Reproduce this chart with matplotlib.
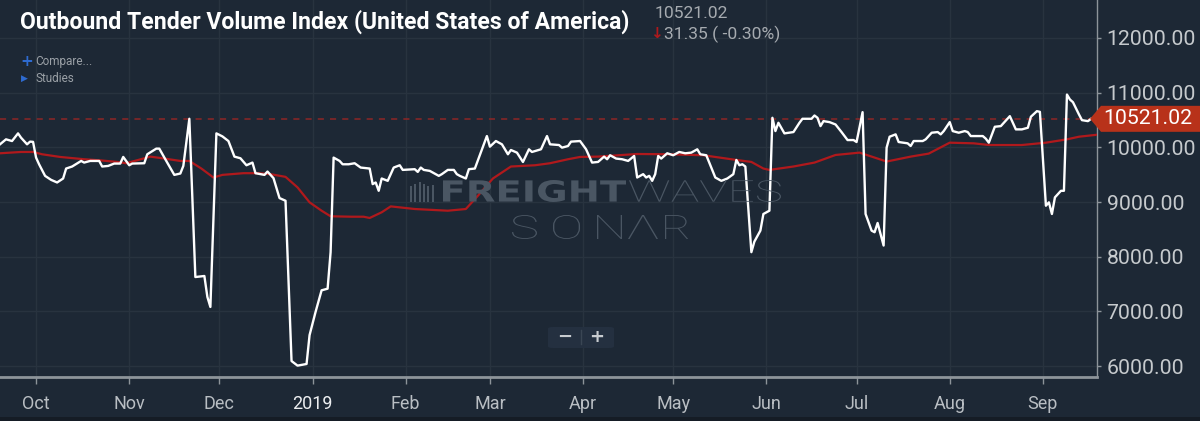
import matplotlib
matplotlib.use("Agg")
import matplotlib.pyplot as plt
import pandas as pd
from matplotlib.patches import PathPatch, Polygon, FancyBboxPatch, Rectangle
from matplotlib.lines import Line2D
from matplotlib.textpath import TextPath
from matplotlib.font_manager import FontProperties
from matplotlib.transforms import Affine2D
from matplotlib.ticker import FuncFormatter

# ---- data --------------------------------------------------------------------
otvi_dates = [
    "2018-09-19", "2018-09-21", "2018-09-23", "2018-09-25", "2018-09-26", "2018-09-28",
    "2018-09-29", "2018-09-30",
    "2018-10-01", "2018-10-02", "2018-10-04", "2018-10-06", "2018-10-08", "2018-10-10",
    "2018-10-11", "2018-10-13", "2018-10-16", "2018-10-17", "2018-10-19", "2018-10-22",
    "2018-10-23", "2018-10-25", "2018-10-27", "2018-10-29", "2018-10-30",
    "2018-11-01", "2018-11-02", "2018-11-06", "2018-11-07", "2018-11-10", "2018-11-11",
    "2018-11-13", "2018-11-16", "2018-11-18", "2018-11-19", "2018-11-21", "2018-11-23",
    "2018-11-26", "2018-11-27", "2018-11-28", "2018-11-30",
    "2018-12-02", "2018-12-04", "2018-12-06", "2018-12-08", "2018-12-10", "2018-12-12",
    "2018-12-13", "2018-12-16", "2018-12-17", "2018-12-19", "2018-12-21", "2018-12-23",
    "2018-12-25", "2018-12-27", "2018-12-30", "2018-12-31",
    "2019-01-02", "2019-01-04", "2019-01-06", "2019-01-07", "2019-01-08", "2019-01-10",
    "2019-01-11", "2019-01-13", "2019-01-15", "2019-01-17", "2019-01-20", "2019-01-21",
    "2019-01-22", "2019-01-23", "2019-01-24", "2019-01-26", "2019-01-28", "2019-01-30",
    "2019-01-31",
    "2019-02-04", "2019-02-05", "2019-02-06", "2019-02-07", "2019-02-09", "2019-02-12",
    "2019-02-13", "2019-02-15", "2019-02-17", "2019-02-18", "2019-02-19", "2019-02-21",
    "2019-02-22", "2019-02-24", "2019-02-28",
    "2019-03-01", "2019-03-03", "2019-03-05", "2019-03-07", "2019-03-08", "2019-03-10",
    "2019-03-12", "2019-03-14", "2019-03-15", "2019-03-18", "2019-03-20", "2019-03-21",
    "2019-03-24", "2019-03-25", "2019-03-27", "2019-03-28", "2019-03-31",
    "2019-04-02", "2019-04-04", "2019-04-06", "2019-04-08", "2019-04-09", "2019-04-10",
    "2019-04-12", "2019-04-14", "2019-04-16", "2019-04-18", "2019-04-19", "2019-04-21",
    "2019-04-22", "2019-04-23", "2019-04-24", "2019-04-25", "2019-04-26", "2019-04-27",
    "2019-04-29",
    "2019-05-01", "2019-05-03", "2019-05-05", "2019-05-07", "2019-05-09", "2019-05-10",
    "2019-05-12", "2019-05-13", "2019-05-15", "2019-05-17", "2019-05-19", "2019-05-21",
    "2019-05-22", "2019-05-23", "2019-05-24", "2019-05-25", "2019-05-27", "2019-05-28",
    "2019-05-30", "2019-05-31",
    "2019-06-02", "2019-06-03", "2019-06-04", "2019-06-05", "2019-06-07", "2019-06-10",
    "2019-06-12", "2019-06-13", "2019-06-16", "2019-06-17", "2019-06-18", "2019-06-19",
    "2019-06-20", "2019-06-22", "2019-06-24", "2019-06-26", "2019-06-28", "2019-06-30",
    "2019-07-01", "2019-07-03", "2019-07-04", "2019-07-06", "2019-07-07", "2019-07-08",
    "2019-07-10", "2019-07-11", "2019-07-12", "2019-07-14", "2019-07-15", "2019-07-18",
    "2019-07-19", "2019-07-20", "2019-07-21", "2019-07-23", "2019-07-24", "2019-07-26",
    "2019-07-28", "2019-07-29", "2019-07-30",
    "2019-08-01", "2019-08-02", "2019-08-04", "2019-08-06", "2019-08-07", "2019-08-08",
    "2019-08-12", "2019-08-13", "2019-08-14", "2019-08-16", "2019-08-18", "2019-08-19",
    "2019-08-21", "2019-08-23", "2019-08-25", "2019-08-27", "2019-08-28", "2019-08-30",
    "2019-08-31",
    "2019-09-02", "2019-09-03", "2019-09-04", "2019-09-05", "2019-09-07", "2019-09-08",
    "2019-09-09", "2019-09-10", "2019-09-11", "2019-09-13", "2019-09-14", "2019-09-16",
    "2019-09-17",
]
otvi_values = [
    10055, 10146, 10115, 10255, 10176, 10055,
    10104, 10100,
    9812, 9690, 9478, 9405, 9357, 9430,
    9612, 9649, 9751, 9721, 9751, 9751,
    9649, 9660, 9703, 9703, 9824,
    9672, 9703, 9709, 9873, 9976, 9976,
    9782, 9496, 9521, 9660, 10522, 7628,
    7647, 7264, 7081, 10255,
    10200, 10115, 9830, 9800, 9672, 9721,
    9527, 9496, 9557, 9436, 9072, 9023,
    6092, 6008, 6038, 6566,
    6991, 7385, 7415, 8083, 9812, 9751,
    9690, 9690, 9709, 9630, 9612, 9327,
    9357, 9205, 9430, 9387, 9630, 9672,
    9587,
    9600, 9550, 9630, 9587, 9569, 9478,
    9509, 9587, 9587, 9509, 9478, 9430,
    9600, 9612, 10206,
    10012, 10115, 10055, 9873, 9951, 9903,
    9732, 9964, 9915, 9964, 10206, 10055,
    10042, 9994, 10024, 10104, 10115,
    9964, 9721, 9733, 9830, 9782, 9855,
    9794, 9782, 9751, 9842, 9448, 9509,
    9448, 9478, 9387, 9509, 9842, 9794,
    9891,
    9855, 9915, 9891, 9903, 9964, 9873,
    9855, 9721, 9448, 9387, 9430, 9509,
    9769, 9672, 9690, 9649, 8083, 8276,
    8477, 8781,
    8841, 10540, 10297, 10449, 10255, 10279,
    10449, 10522, 10522, 10582, 10540, 10388,
    10479, 10461, 10418, 10279, 10133, 10133,
    10097, 10643, 8781, 8477, 8447, 8617,
    8204, 9994, 10194, 10237, 10097, 10073,
    10024, 10115, 10115, 10115, 10146, 10267,
    10279, 10237, 10297,
    10461, 10297, 10267, 10297, 10279, 10206,
    10206, 10158, 10085, 10376, 10388, 10449,
    10570, 10328, 10328, 10358, 10559, 10661,
    10649,
    8932, 8994, 8781, 9085, 9205, 9205,
    10965, 10874, 10825, 10601, 10497, 10479,
    10521.02,
]

# the red smoothed (moving average) line
avg_dates = [
    "2018-09-19", "2018-09-26", "2018-09-30", "2018-10-03", "2018-10-09", "2018-10-17",
    "2018-10-22", "2018-10-28", "2018-10-31", "2018-11-04", "2018-11-08", "2018-11-12",
    "2018-11-18", "2018-11-21", "2018-11-25", "2018-11-29", "2018-12-02", "2018-12-09",
    "2018-12-14", "2018-12-18", "2018-12-23", "2018-12-27", "2018-12-31", "2019-01-04",
    "2019-01-07", "2019-01-14", "2019-01-18", "2019-01-20", "2019-01-24", "2019-01-27",
    "2019-02-04", "2019-02-15", "2019-02-21", "2019-02-25", "2019-03-02", "2019-03-08",
    "2019-03-16", "2019-03-21", "2019-03-27", "2019-03-31", "2019-04-06", "2019-04-19",
    "2019-04-30", "2019-05-11", "2019-05-22", "2019-05-27", "2019-05-31", "2019-06-02",
    "2019-06-10", "2019-06-17", "2019-06-24", "2019-07-02", "2019-07-11", "2019-07-19",
    "2019-07-25", "2019-08-01", "2019-08-09", "2019-08-14", "2019-08-25", "2019-09-02",
    "2019-09-09", "2019-09-13", "2019-09-19",
]
avg_values = [
    9891, 9915, 9915, 9873, 9824, 9782,
    9763, 9733, 9709, 9769, 9830, 9800,
    9751, 9751, 9612, 9448, 9496, 9527,
    9527, 9509, 9460, 9267, 8994, 8841,
    8739, 8731, 8731, 8708, 8812, 8920,
    8872, 8841, 8872, 9114, 9430, 9649,
    9672, 9709, 9782, 9824, 9830, 9878,
    9873, 9855, 9769, 9733, 9612, 9587,
    9649, 9721, 9860, 9903, 9740, 9830,
    9885, 10085, 10073, 10042, 10042, 10085,
    10146, 10194, 10230,
]

last_value = 10521.02
change_text = "31.35 ( -0.30%)"
title = "Outbound Tender Volume Index (United States of America)"

month_ticks = ["2018-10-01", "2018-11-01", "2018-12-01", "2019-01-01", "2019-02-01",
               "2019-03-01", "2019-04-01", "2019-05-01", "2019-06-01", "2019-07-01",
               "2019-08-01", "2019-09-01"]
month_labels = ["Oct", "Nov", "Dec", "2019", "Feb", "Mar", "Apr", "May", "Jun",
                "Jul", "Aug", "Sep"]
y_ticks = [6000, 7000, 8000, 9000, 10000, 11000, 12000]

# ---- style -------------------------------------------------------------------
W, H = 1200, 421
BG = "#1d2835"
GRID = "#28333f"
AXIS = "#8d949a"
LABEL = "#b9bec3"
WATERMARK = "#4a5663"
plt.rcParams["font.family"] = ["Roboto", "DejaVu Sans"]


def fx(x):
    return x / W


def fy(y):
    return 1 - y / H


pix = Affine2D().scale(1 / W, 1 / H)


def add_word(fig, s, x0, x1, ytop, ybot, prop, color):
    # stretch a text path into a pixel box (the watermark uses a wide font)
    tp = TextPath((0, 0), s, size=100, prop=prop)
    bb = tp.get_extents()
    tr = (Affine2D().translate(-bb.x0, -bb.y0)
          .scale((x1 - x0) / bb.width, (ybot - ytop) / bb.height)
          .translate(x0, H - ybot))
    fig.add_artist(PathPatch(tr.transform_path(tp), fc=color, ec="none",
                             transform=pix + fig.transFigure, zorder=0.5))


fig = plt.figure(figsize=(W / 100, H / 100), dpi=100, facecolor=BG)
ax = fig.add_axes([0, fy(377), fx(1097), 377 / H])
ax.set_facecolor(BG)

# watermark behind the lines
bold = FontProperties(family="DejaVu Sans", weight="bold")
light = FontProperties(family=["Roboto", "DejaVu Sans"], weight="light")
add_word(fig, "FREIGHT", 443, 626, 180, 202, bold, WATERMARK)
add_word(fig, "WAVES", 629, 781, 180, 202, light, WATERMARK)
for ch, (a, b) in zip("SONΛR", [(512, 537), (553, 580), (597, 622), (628, 658), (665, 688)]):
    add_word(fig, ch, a, b, 215, 239, light, WATERMARK)
for i, top in enumerate([186, 184, 182, 184, 186, 185]):
    fig.add_artist(Rectangle((fx(410 + i * 4.3), fy(202)), 2 / W, (202 - top) / H,
                             transform=fig.transFigure, fc=WATERMARK, ec="none", zorder=0.5))

ax.plot(pd.to_datetime(otvi_dates), otvi_values, color="white", lw=1.7, zorder=4)
ax.plot(pd.to_datetime(avg_dates), avg_values, color="#b0191c", lw=1.6, zorder=3)
ax.axhline(last_value, color="#8e2626", lw=1.1, ls=(0, (4, 4)), zorder=2)

ax.set_xlim(pd.Timestamp("2018-09-19"), pd.Timestamp("2019-09-19"))
ax.set_ylim(5800, 12694)
ax.set_xticks(pd.to_datetime(month_ticks))
ax.set_xticklabels(month_labels)
ax.set_yticks(y_ticks)
ax.yaxis.set_major_formatter(FuncFormatter(lambda v, p: f"{v:.2f}"))
ax.yaxis.tick_right()
ax.grid(True, color=GRID, lw=1)
ax.set_axisbelow(True)

for s in ("top", "left"):
    ax.spines[s].set_visible(False)
ax.spines["right"].set_color(AXIS)
ax.spines["right"].set_linewidth(1)
ax.spines["bottom"].set_color(AXIS)
ax.spines["bottom"].set_linewidth(2)
ax.tick_params(axis="x", length=5, width=1, color=AXIS, labelcolor=LABEL,
               labelsize=13, pad=8)
ax.tick_params(axis="y", length=3, width=1, color=AXIS, labelcolor="#c6cacd",
               labelsize=15.3, pad=4)
ax.get_xticklabels()[3].set_color("#eceef0")

# header texts
fig.text(fx(20), fy(22), title, fontsize=16.6, weight="bold", color="white", va="center")
fig.text(fx(655), fy(13), f"{last_value:.2f}", fontsize=12.6, color="#a6abb0", va="center")
fig.text(fx(656), fy(34), "↓", fontsize=11, weight="bold", color="#b0191c", va="center",
         ha="center", family="DejaVu Sans")
fig.text(fx(664), fy(34), change_text, fontsize=12.6, color="#a6abb0", va="center")
fig.text(fx(20), fy(61), "+", fontsize=11, weight="bold", color="#2e6bd0", va="center",
         family="DejaVu Sans")
fig.text(fx(35), fy(62), "Compare...", fontsize=8.5, color="#9aa0a6", va="center")
fig.text(fx(21), fy(78), "▶", fontsize=6.5, color="#2e6bd0", va="center", family="DejaVu Sans")
fig.text(fx(35), fy(78), "Studies", fontsize=8.5, color="#9aa0a6", va="center")

# zoom control
fig.add_artist(FancyBboxPatch((fx(548), fy(348)), 66 / W, 21 / H,
                              boxstyle="round,pad=0,rounding_size=0.004",
                              transform=fig.transFigure, fc="#243040", ec="none"))
fig.add_artist(Line2D([fx(581), fx(581)], [fy(330), fy(344)], color="#3a4654", lw=1))
fig.text(fx(565), fy(337), "−", fontsize=13, weight="bold", color="#c8ccd0",
         ha="center", va="center", family="DejaVu Sans")
fig.text(fx(597), fy(337), "+", fontsize=13, weight="bold", color="#c8ccd0",
         ha="center", va="center", family="DejaVu Sans")

# last value tag on the price axis
y_last = H - ax.transData.transform((0, last_value))[1]
tag = [(1090, y_last), (1101, y_last - 13), (1200, y_last - 13),
       (1200, y_last + 13), (1101, y_last + 13)]
fig.add_artist(Polygon([(fx(x), fy(y)) for x, y in tag], closed=True,
                       transform=fig.transFigure, fc="#b8321a", ec="none", zorder=5))
fig.text(fx(1103), fy(y_last), f"{last_value:.2f}", fontsize=15.3, color="white",
         va="center", zorder=6)

fig.add_artist(Rectangle((0, 0), 1, 4 / H, transform=fig.transFigure,
                         fc="#151c25", ec="none"))

fig.savefig("out.png", dpi=100, facecolor=BG)
